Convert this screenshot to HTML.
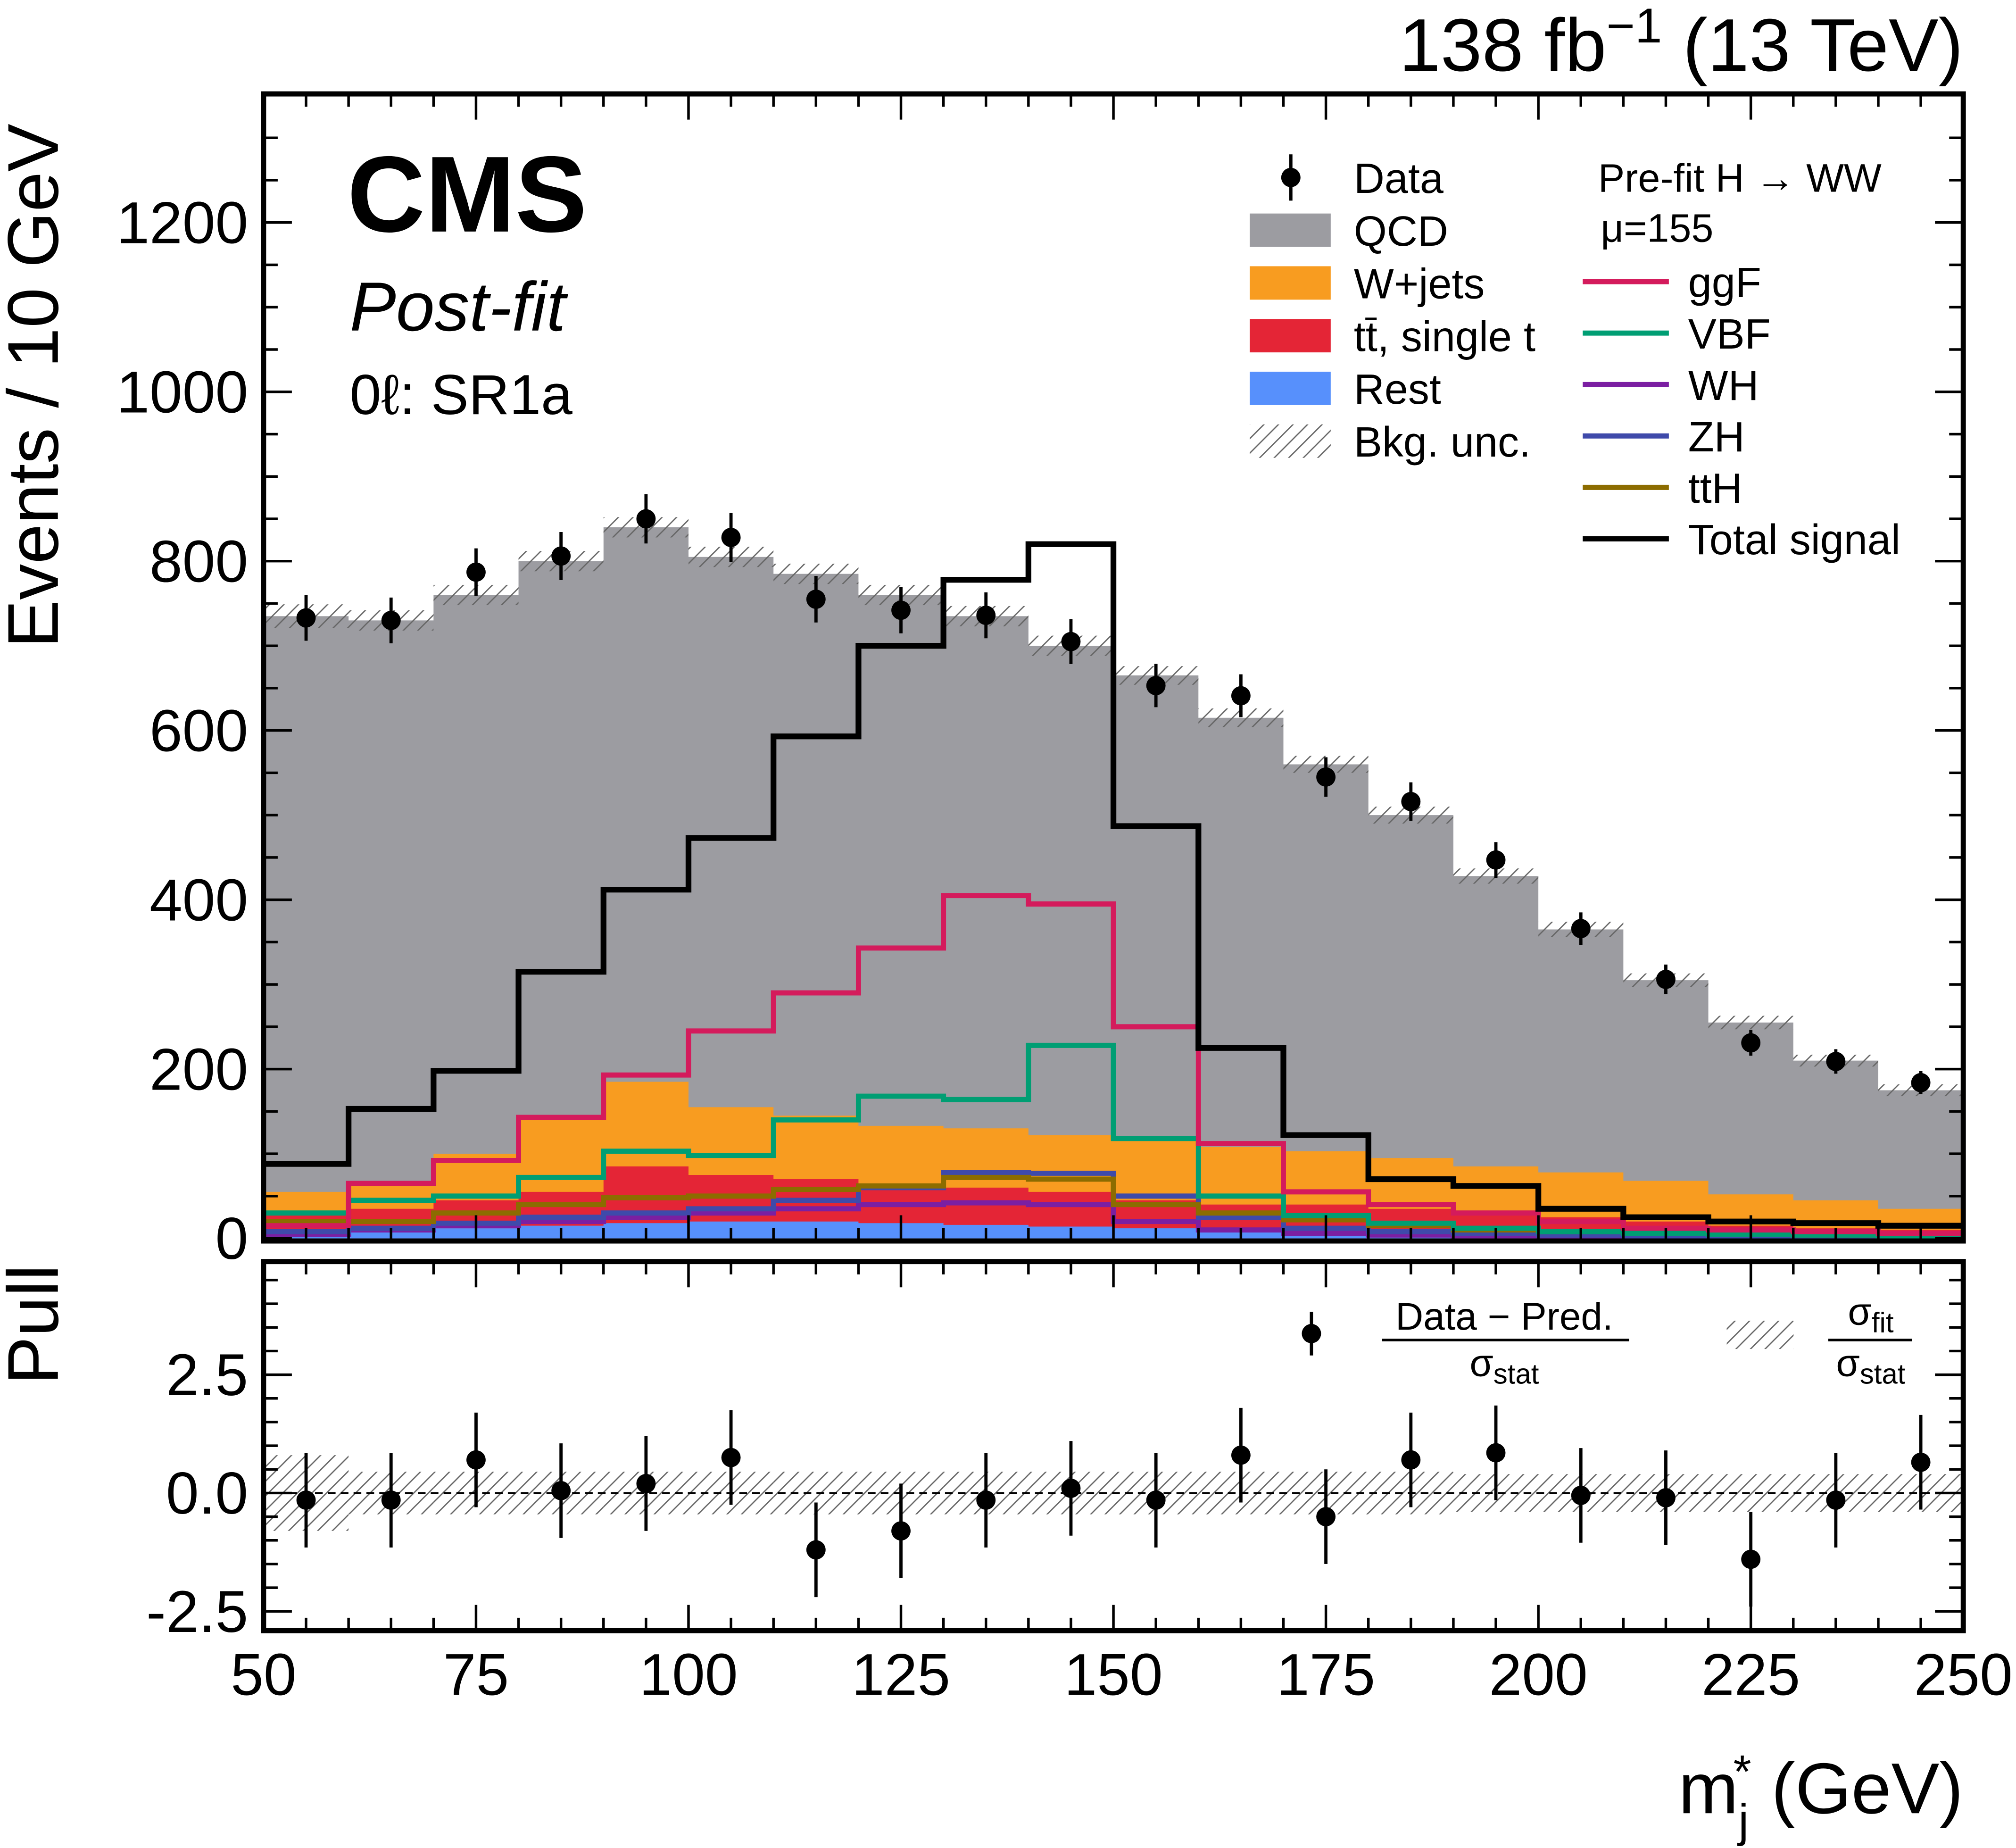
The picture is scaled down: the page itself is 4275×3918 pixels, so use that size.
<!DOCTYPE html>
<html><head><meta charset="utf-8"><style>
html,body{margin:0;padding:0;background:#fff;}
svg{display:block;font-family:"Liberation Sans",sans-serif;}
</style></head><body>
<svg id="c" width="4275" height="3918" viewBox="0 0 1568 1437">
<defs>
<pattern id="hatch" patternUnits="userSpaceOnUse" width="8" height="8" patternTransform="rotate(45)">
<rect width="8" height="8" fill="none"/><line x1="0" y1="0" x2="0" y2="8" stroke="#666" stroke-width="2"/></pattern>
</defs>
<g id="main"></g>
<g id="pull"></g>
<text x="1527" y="55" text-anchor="end" font-size="58">138 fb<tspan dy="-22" font-size="38">−1</tspan><tspan dy="22"> (13 TeV)</tspan></text>
<text x="270" y="180" font-size="84" font-weight="bold">CMS</text>
<text x="272" y="257" font-size="54" font-style="italic">Post-fit</text>
<text x="272" y="322" font-size="44">0ℓ: SR1a</text>
<text transform="translate(45,300) rotate(-90)" text-anchor="middle" font-size="56">Events / 10 GeV</text>
<text transform="translate(45,1030) rotate(-90)" text-anchor="middle" font-size="56">Pull</text>
<text x="1527" y="1410" text-anchor="end" font-size="56">m<tspan dy="18" font-size="36">j</tspan><tspan dy="-38" dx="-12" font-size="36">*</tspan><tspan dy="20"> (GeV)</tspan></text>
<g id="legend"></g>
</svg>
<script>
const binEdges=[50,60,70,80,90,100,110,120,130,140,150,160,170,180,190,200,210,220,230,240,250];
const dataVals=[733,730,787,806,850,828,755,742,736,705,653,641,545,516,447,366,306,231,209,184];
const qcdTop=[735,730,760,800,840,805,785,760,735,700,665,615,560,500,428,365,305,255,210,175];
const wjetsTop=[55,62,100,140,185,155,145,133,130,122,118,108,103,95,85,78,68,52,45,35];
const ttTop=[30,35,45,55,85,75,70,65,60,55,45,40,40,35,30,25,20,15,12,10];
const restTop=[8,10,12,15,18,20,20,18,16,14,12,10,8,8,6,5,5,4,3,3];
const bkgUnc=[14,12,12,12,12,12,12,12,12,12,11,11,10,10,9,9,8,8,7,7];
const totalSig=[88,153,198,315,412,473,593,700,778,820,487,225,122,70,62,35,25,20,18,15];
const ggF=[15,65,92,143,193,245,290,343,405,395,250,112,55,40,30,20,12,10,8,6];
const vbf=[30,45,50,72,103,98,140,168,164,228,118,50,27,18,12,8,6,5,4,3];
const wh=[5,10,15,20,25,30,35,40,42,40,20,10,6,4,3,2,2,1,1,1];
const zh=[8,12,18,25,30,35,45,60,78,77,50,25,12,8,6,4,3,2,2,1];
const tth=[20,20,30,40,48,50,58,62,72,70,40,30,22,15,10,8,6,5,4,3];
const pullVals=[-0.15,-0.15,0.7,0.05,0.2,0.75,-1.2,-0.8,-0.15,0.1,-0.15,0.8,-0.5,0.7,0.85,-0.05,-0.1,-1.4,-0.15,0.65];
const pullBand=[0.8,0.45,0.45,0.45,0.45,0.45,0.45,0.45,0.45,0.45,0.45,0.45,0.45,0.45,0.4,0.4,0.4,0.4,0.4,0.4];
const yTicks=[0,200,400,600,800,1000,1200];
const pTicks=[-2.5,0,2.5];
const pTickLabels=["-2.5","0.0","2.5"];
const xTicks=[50,75,100,125,150,175,200,225,250];

const NS="http://www.w3.org/2000/svg";
const L=205,R=1527,T=73,B=965,PT=981,PB=1268;
const X=v=>L+(v-50)/200*(R-L);
const Y=v=>963-v*(790/1200);
const P=v=>1161-v*(92/2.5);
function mk(tag,attrs,parent){const e=document.createElementNS(NS,tag);for(const k in attrs)e.setAttribute(k,attrs[k]);parent.appendChild(e);return e;}
const main=document.getElementById('main'),pull=document.getElementById('pull'),leg=document.getElementById('legend');

function fillStack(vals,color,name){
  let d=`M${X(50)},${Y(0)}`;
  vals.forEach((v,i)=>{d+=`L${X(binEdges[i])},${Y(v)}L${X(binEdges[i+1])},${Y(v)}`;});
  d+=`L${X(250)},${Y(0)}Z`;
  const p=mk('path',{d:d,fill:color},main);
  
  
}
fillStack(qcdTop,'#9c9ca1','qcd-stack');
fillStack(wjetsTop,'#f89c20','wjets-stack');
fillStack(ttTop,'#e42536','ttbar-stack');
fillStack(restTop,'#5790fc','rest-stack');
qcdTop.forEach((v,i)=>{
  const r=mk('rect',{x:X(binEdges[i]),y:Y(v+bkgUnc[i]),width:X(binEdges[i+1])-X(binEdges[i]),height:Y(v-bkgUnc[i])-Y(v+bkgUnc[i]),fill:'url(#hatch)'},main);
  
  
});
function stepLine(vals,color,w,name){
  let d='';
  vals.forEach((v,i)=>{d+=(i?'L':'M')+`${X(binEdges[i])},${Y(v)}L${X(binEdges[i+1])},${Y(v)}`;});
  const p=mk('path',{d:d,fill:'none',stroke:color,'stroke-width':w},main);
  
  
}
stepLine(wh,'#7b1fa2',4,'wh-line');
stepLine(zh,'#3f4aaa',4,'zh-line');
stepLine(tth,'#8c6c00',4,'tth-line');
stepLine(vbf,'#009e73',4,'vbf-line');
stepLine(ggF,'#d41b5c',4,'ggf-line');
stepLine(totalSig,'#000',4.5,'total-signal-line');
dataVals.forEach((v,i)=>{
  const cx=X((binEdges[i]+binEdges[i+1])/2),e=Math.sqrt(v);
  const l=mk('line',{x1:cx,x2:cx,y1:Y(v+e),y2:Y(v-e),stroke:'#000','stroke-width':2.5},main);
  
  
  const c=mk('circle',{cx:cx,cy:Y(v),r:7.5,fill:'#000'},main);
  
  
});
pullBand.forEach((b,i)=>{
  const r=mk('rect',{x:X(binEdges[i]),y:P(b),width:X(binEdges[i+1])-X(binEdges[i]),height:P(-b)-P(b),fill:'url(#hatch)'},pull);
  
  
});
const zl=mk('line',{x1:L,x2:R,y1:P(0),y2:P(0),stroke:'#000','stroke-width':1.5,'stroke-dasharray':'6,4'},pull);


pullVals.forEach((v,i)=>{
  const cx=X((binEdges[i]+binEdges[i+1])/2);
  const l=mk('line',{x1:cx,x2:cx,y1:P(v+1),y2:P(v-1),stroke:'#000','stroke-width':2.5},pull);
  
  
  const c=mk('circle',{cx:cx,cy:P(v),r:7.5,fill:'#000'},pull);
  
  
});
function frame(g,t,b,name){
  const r=mk('rect',{x:L,y:t,width:R-L,height:b-t,fill:'none',stroke:'#000','stroke-width':4},g);
  
  
  for(let v=50;v<=250;v+=5){
    const len=(v%25===0)?20:10;
    mk('line',{x1:X(v),x2:X(v),y1:b,y2:b-len,stroke:'#000','stroke-width':2},g);
    mk('line',{x1:X(v),x2:X(v),y1:t,y2:t+len,stroke:'#000','stroke-width':2},g);
  }
}
frame(main,T,B,'main-frame');
frame(pull,PT,PB,'pull-frame');
for(let v=0;v<=1300;v+=50){
  const len=(v%200===0)?22:11;
  mk('line',{x1:L,x2:L+len,y1:Y(v),y2:Y(v),stroke:'#000','stroke-width':2},main);
  mk('line',{x1:R,x2:R-len,y1:Y(v),y2:Y(v),stroke:'#000','stroke-width':2},main);
}
yTicks.forEach(v=>{
  const t=mk('text',{x:L-12,y:Y(v)+16,'text-anchor':'end','font-size':46},main);
  t.textContent=v;
  
  
});
for(let v=-3;v<=4.5;v+=0.5){
  if(P(v)<PT||P(v)>PB)continue;
  const len=(Math.abs(v%2.5)<1e-9)?22:11;
  mk('line',{x1:L,x2:L+len,y1:P(v),y2:P(v),stroke:'#000','stroke-width':2},pull);
  mk('line',{x1:R,x2:R-len,y1:P(v),y2:P(v),stroke:'#000','stroke-width':2},pull);
}
pTicks.forEach((v,i)=>{
  const t=mk('text',{x:L-12,y:P(v)+16,'text-anchor':'end','font-size':46},pull);
  t.textContent=pTickLabels[i];
  
  
});
xTicks.forEach(v=>{
  const t=mk('text',{x:X(v),y:1318,'text-anchor':'middle','font-size':46},pull);
  t.textContent=v;
  
  
});
const lr=[['Data',null],['QCD','#9c9ca1'],['W+jets','#f89c20'],['tt̄, single t','#e42536'],['Rest','#5790fc'],['Bkg. unc.','hatch']];
lr.forEach((e,i)=>{
  const y=138+i*41;
  if(e[1]===null){
    mk('line',{x1:1004,x2:1004,y1:y-18,y2:y+18,stroke:'#000','stroke-width':2.5},leg);
    mk('circle',{cx:1004,cy:y,r:7.5,fill:'#000'},leg);
  } else {
    mk('rect',{x:972,y:y-13,width:63,height:26,fill:e[1]==='hatch'?'url(#hatch)':e[1]},leg);
  }
  const t=mk('text',{x:1053,y:y+12,'font-size':33},leg);
  t.textContent=e[0];
  
  
});
const h1=mk('text',{x:1243,y:149,'font-size':31},leg);h1.textContent='Pre-fit H → WW';
const h2=mk('text',{x:1245,y:188,'font-size':31},leg);h2.textContent='μ=155';
const sr=[['ggF','#d41b5c'],['VBF','#009e73'],['WH','#7b1fa2'],['ZH','#3f4aaa'],['ttH','#8c6c00'],['Total signal','#000']];
sr.forEach((e,i)=>{
  const y=219+i*40;
  mk('line',{x1:1231,x2:1298,y1:y,y2:y,stroke:e[1],'stroke-width':4},leg);
  const t=mk('text',{x:1313,y:y+12,'font-size':33},leg);
  t.textContent=e[0];
  
  
});
mk('line',{x1:1020,x2:1020,y1:1020,y2:1054,stroke:'#000','stroke-width':2.5},leg);
mk('circle',{cx:1020,cy:1037,r:7.5,fill:'#000'},leg);
const f1=mk('text',{x:1170,y:1034,'font-size':30,'text-anchor':'middle'},leg);f1.textContent='Data − Pred.';
mk('line',{x1:1075,x2:1267,y1:1042,y2:1042,stroke:'#000','stroke-width':2},leg);
const f2=mk('text',{x:1170,y:1070,'font-size':30,'text-anchor':'middle'},leg);f2.innerHTML='σ<tspan font-size="22" dy="6">stat</tspan>';
mk('rect',{x:1343,y:1027,width:52,height:22,fill:'url(#hatch)'},leg);
const f3=mk('text',{x:1455,y:1030,'font-size':30,'text-anchor':'middle'},leg);f3.innerHTML='σ<tspan font-size="22" dy="6">fit</tspan>';
mk('line',{x1:1422,x2:1487,y1:1042,y2:1042,stroke:'#000','stroke-width':2},leg);
const f4=mk('text',{x:1455,y:1070,'font-size':30,'text-anchor':'middle'},leg);f4.innerHTML='σ<tspan font-size="22" dy="6">stat</tspan>';
</script>
</body></html>
